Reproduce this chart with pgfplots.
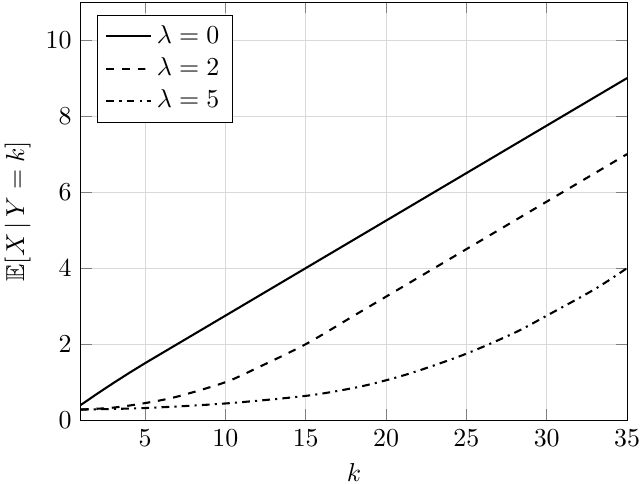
\documentclass[border=0pt]{standalone}
\usepackage{amssymb}
\usepackage{pgfplots}
\pgfplotsset{compat=1.18}

\begin{document}
\begin{tikzpicture}
\begin{axis}[
    name=ax,
    scale only axis,
    width=211pt,
    height=161.5pt,
    xmin=1, xmax=35,
    ymin=0, ymax=11,
    xtick={5,10,...,35},
    ytick={0,2,...,10},
    grid=major,
    grid style={gray!30},
    xlabel={$k$},
    ylabel={$\mathbb{E}[X\,|\,Y=k]$},
    ylabel shift=-1pt,
    legend pos=north west,
    legend cell align=left,
]
\addplot[thick, black] coordinates {
    (1,0.4) (2,0.69) (3,0.97) (4,1.24) (5,1.5) (6,1.75) (10,2.75) (15,4.0) (20,5.25) (25,6.5) (30,7.75) (35,9.0)
};
\addlegendentry{$\lambda=0$}
\addplot[thick, black, dashed, smooth] coordinates {
    (1,0.28) (3,0.33) (5,0.45) (7,0.62) (10,1.0) (12,1.38) (15,2.0) (18,2.75) (20,3.25) (25,4.5) (30,5.75) (35,7.0)
};
\addlegendentry{$\lambda=2$}
\addplot[thick, black, dashdotted, smooth] coordinates {
    (1,0.28) (5,0.32) (10,0.44) (15,0.64) (18,0.85) (20,1.05) (22,1.3) (25,1.75) (28,2.3) (30,2.75) (33,3.45) (35,4.0)
};
\addlegendentry{$\lambda=5$}
\end{axis}
% tight crop like the reference
\pgfresetboundingbox
\path ([xshift=-31.2pt,yshift=-24.3pt]ax.south west) rectangle ([xshift=5pt,yshift=0.8pt]ax.north east);
\end{tikzpicture}
\end{document}
